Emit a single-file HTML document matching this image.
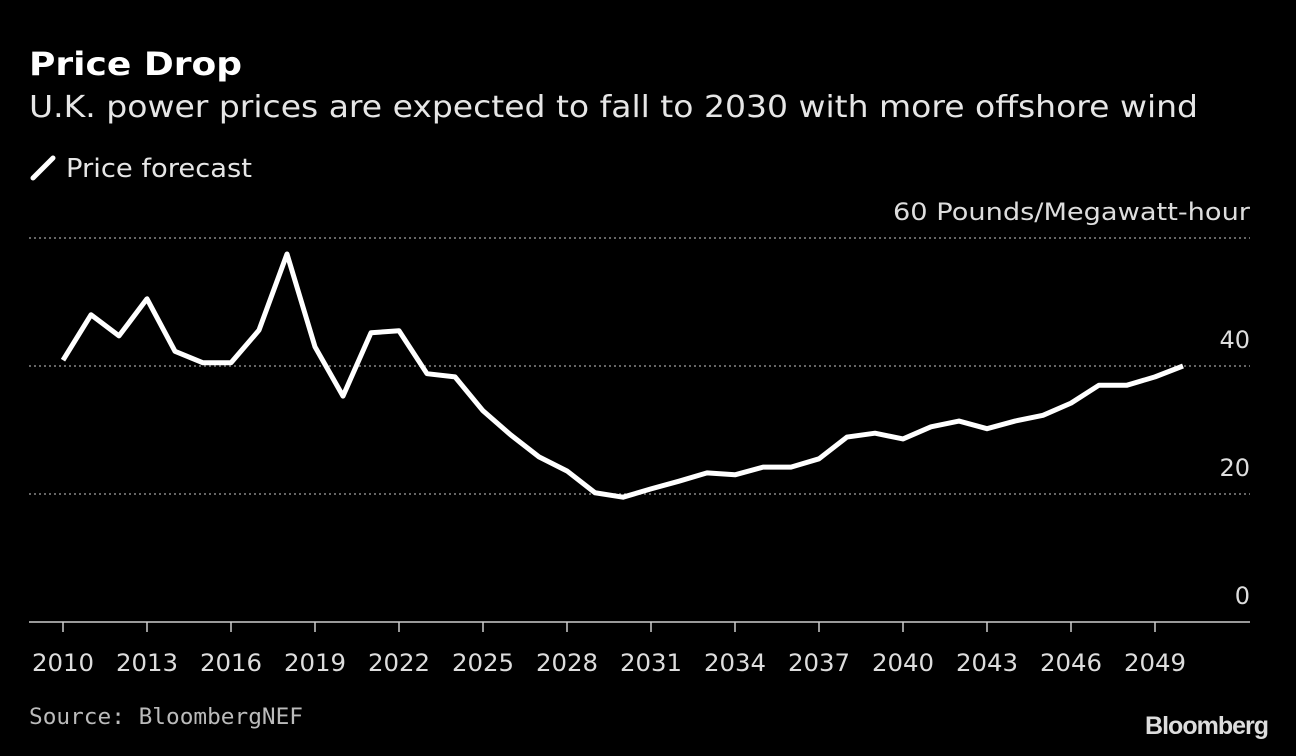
<!DOCTYPE html>
<html><head><meta charset="utf-8"><style>
body{margin:0;background:#000;width:1296px;height:752px;overflow:hidden;font-family:"DejaVu Sans","Liberation Sans",sans-serif;color:#fff}
</style></head><body>
<svg width="1296" height="752" font-family="DejaVu Sans, Liberation Sans, sans-serif">
<text x="29" y="75" font-size="32" font-weight="bold" fill="#fff" textLength="213" lengthAdjust="spacingAndGlyphs">Price Drop</text>
<text x="29" y="117" font-size="30" fill="#e6e6e6" textLength="1169" lengthAdjust="spacingAndGlyphs">U.K. power prices are expected to fall to 2030 with more offshore wind</text>
<line x1="33" y1="178" x2="53" y2="158" stroke="#fff" stroke-width="5" stroke-linecap="round"/>
<text x="66" y="177" font-size="26" fill="#e6e6e6" textLength="186" lengthAdjust="spacingAndGlyphs">Price forecast</text>
<g id="grid"></g>
<g id="xaxis"></g>
<path id="line" fill="none" stroke="#fff" stroke-width="5" stroke-linejoin="round"/>
<text x="29" y="724" font-size="22" fill="#bbb" font-family="DejaVu Sans Mono, Liberation Mono, monospace" textLength="274" lengthAdjust="spacingAndGlyphs">Source: BloombergNEF</text>
<text x="1268" y="734" font-size="25" font-weight="bold" fill="#ddd" text-anchor="end" font-family="Liberation Sans, sans-serif" letter-spacing="-1">Bloomberg</text>
</svg>
<script>
const years=[2010,2011,2012,2013,2014,2015,2016,2017,2018,2019,2020,2021,2022,2023,2024,2025,2026,2027,2028,2029,2030,2031,2032,2033,2034,2035,2036,2037,2038,2039,2040,2041,2042,2043,2044,2045,2046,2047,2048,2049,2050];
const prices=[40.9,48,44.7,50.5,42.3,40.5,40.5,45.6,57.5,43,35.3,45.2,45.5,38.8,38.3,33,29.2,25.8,23.6,20.2,19.5,20.8,22,23.3,23,24.2,24.2,25.5,28.9,29.5,28.6,30.5,31.4,30.2,31.4,32.3,34.2,37,37,38.3,40];
const yTicks=[0,20,40,60];
const xTicks=[2010,2013,2016,2019,2022,2025,2028,2031,2034,2037,2040,2043,2046,2049];
const NS="http://www.w3.org/2000/svg";
const x=v=>63+(v-2010)*28;
const y=v=>622-v*6.4;
const grid=document.getElementById('grid'),xa=document.getElementById('xaxis');
yTicks.forEach(t=>{
 if(t>0){const l=document.createElementNS(NS,'line');
 l.setAttribute('x1',29);l.setAttribute('x2',1250);l.setAttribute('y1',y(t));l.setAttribute('y2',y(t));
 l.setAttribute('stroke','#888');l.setAttribute('stroke-width','1.5');l.setAttribute('stroke-dasharray','2,3');
 
 
 grid.appendChild(l);}
 const tx=document.createElementNS(NS,'text');
 tx.setAttribute('x',1250);tx.setAttribute('y',y(t)-18);tx.setAttribute('text-anchor','end');
 tx.setAttribute('font-size','24');tx.setAttribute('fill','#ddd');
 tx.textContent=t===60?'60 Pounds/Megawatt-hour':String(t);
 if(t===60){tx.setAttribute('textLength','357');tx.setAttribute('lengthAdjust','spacingAndGlyphs');}
 
 
 grid.appendChild(tx);
});
const base=document.createElementNS(NS,'line');
base.setAttribute('x1',29);base.setAttribute('x2',1250);base.setAttribute('y1',622);base.setAttribute('y2',622);
base.setAttribute('stroke','#ccc');base.setAttribute('stroke-width','1.5');


xa.appendChild(base);
xTicks.forEach(t=>{
 const l=document.createElementNS(NS,'line');
 l.setAttribute('x1',x(t));l.setAttribute('x2',x(t));l.setAttribute('y1',622);l.setAttribute('y2',632);
 l.setAttribute('stroke','#ccc');l.setAttribute('stroke-width','1.5');
 
 
 xa.appendChild(l);
 const tx=document.createElementNS(NS,'text');
 tx.setAttribute('x',x(t)-31);tx.setAttribute('y',671);
 tx.setAttribute('font-size','24');tx.setAttribute('fill','#ddd');tx.textContent=t;
 tx.setAttribute('textLength','62');tx.setAttribute('lengthAdjust','spacingAndGlyphs');
 
 
 xa.appendChild(tx);
});
document.getElementById('line').setAttribute('d',years.map((yr,i)=>(i?'L':'M')+x(yr)+','+y(prices[i])).join(''));
</script>
</body></html>
